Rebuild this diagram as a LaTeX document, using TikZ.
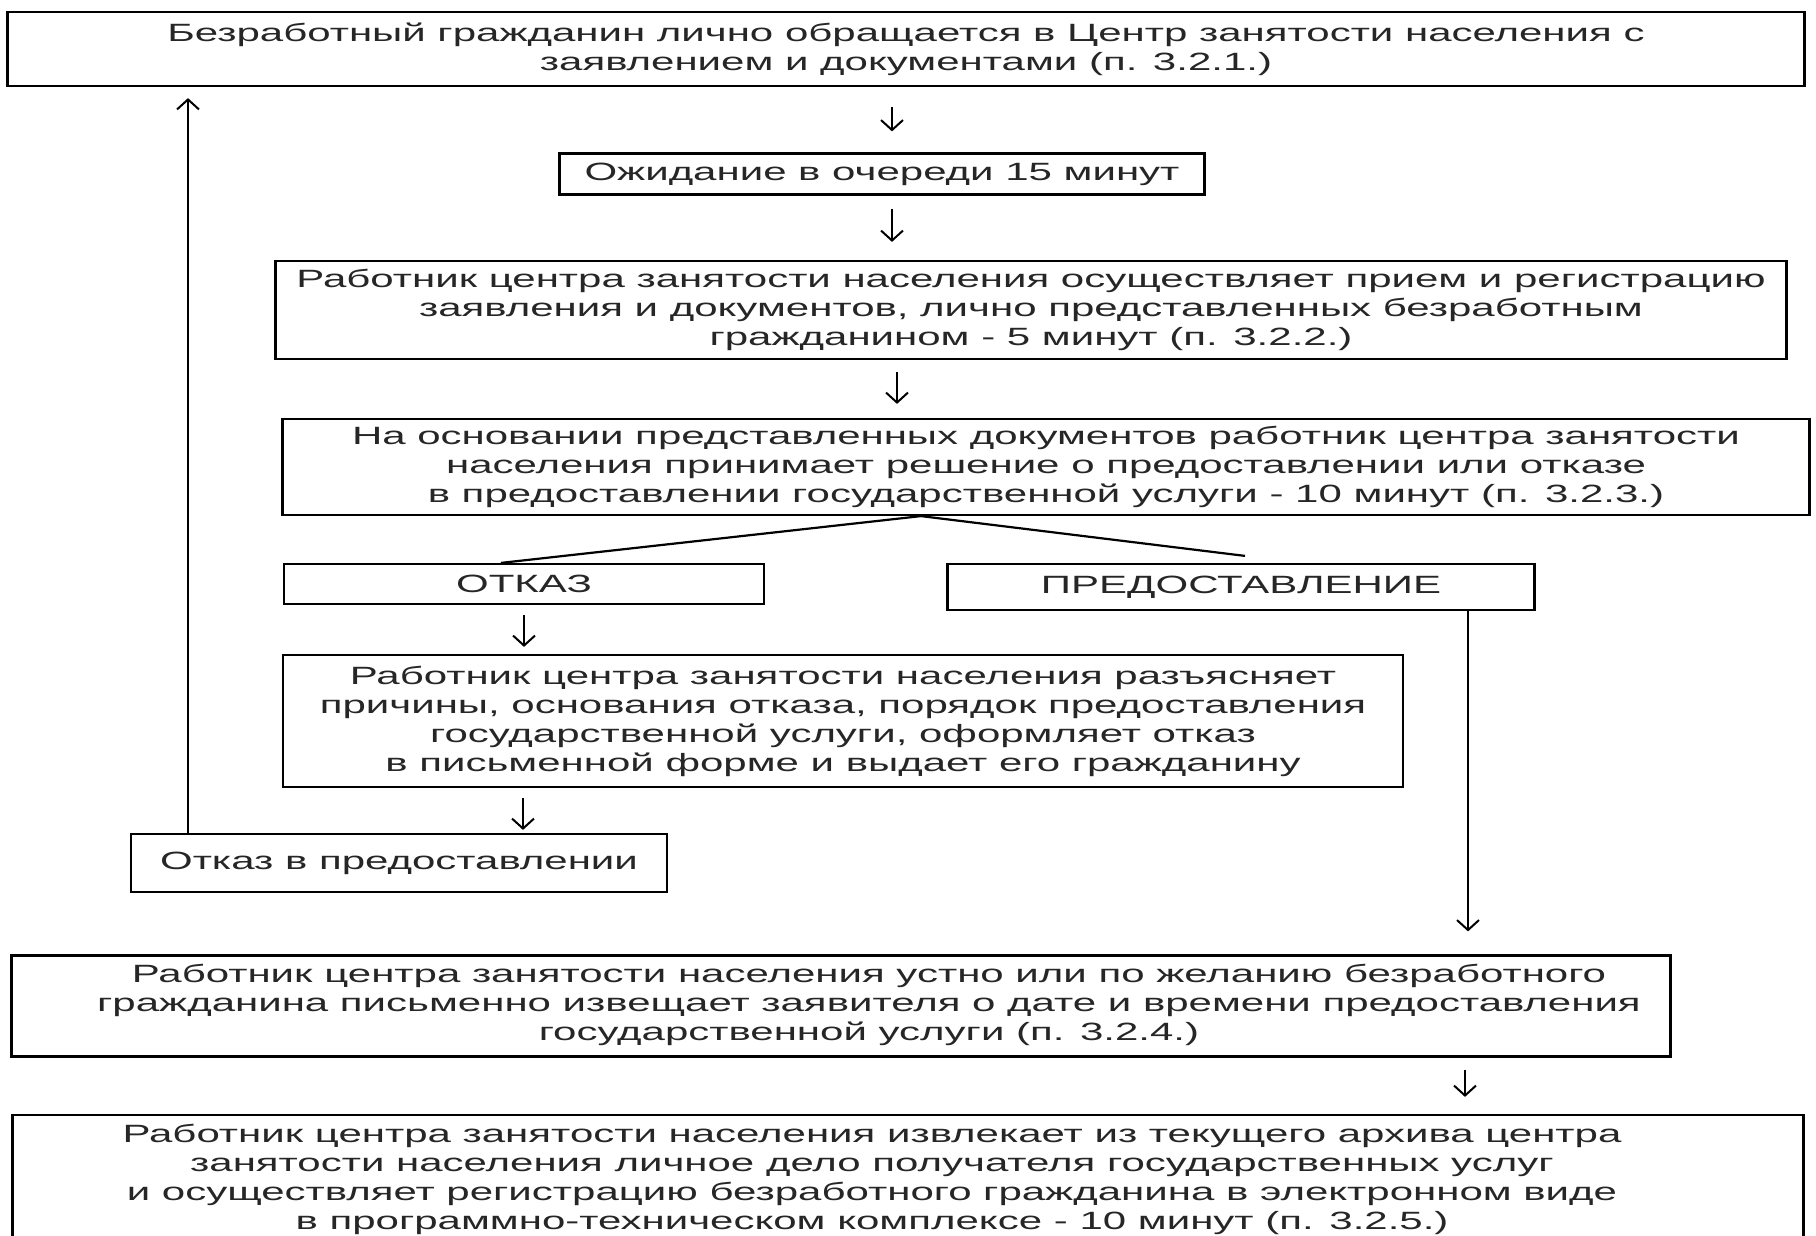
\documentclass[tikz,border=0pt]{standalone}
\usepackage{fontspec}
\setmainfont{Liberation Sans}[FakeStretch=1.68]
\usetikzlibrary{arrows.meta}

\begin{document}
\begin{tikzpicture}[x=0.5pt,y=-0.5pt,
    box/.style={draw,line width=1.1pt,align=center,inner sep=0pt,
      text=black!85,font=\fontsize{12.5pt}{14.5pt}\selectfont},
    arr/.style={-{Straight Barb[width=11pt,length=5pt]},line width=1pt},
    fork/.style={line width=1.1pt}]
   \useasboundingbox (0,0) rectangle (1816,1236);
   \node[box,minimum width=898.5pt,minimum height=37pt] (obr) at (906,49)
     {Безработный гражданин лично обращается в Центр занятости населения с\\
      заявлением и документами (п. 3.2.1.)};
   \node[box,minimum width=322.5pt,minimum height=20.5pt] (wait) at (882,174)
     {Ожидание в очереди 15 минут};
   \node[box,minimum width=755.5pt,minimum height=49pt] (priem) at (1031,310)
     {Работник центра занятости населения осуществляет прием и регистрацию\\
      заявления и документов, лично представленных безработным\\
      гражданином - 5 минут (п. 3.2.2.)};
   \node[box,minimum width=763.5pt,minimum height=48pt] (reshenie) at (1046,467)
     {На основании представленных документов работник центра занятости\\
      населения принимает решение о предоставлении или отказе\\
      в предоставлении государственной услуги - 10 минут (п. 3.2.3.)};
   \node[box,minimum width=240pt,minimum height=20pt] (otkaz) at (524,584)
     {ОТКАЗ};
   \node[box,minimum width=293.5pt,minimum height=23pt] (predost) at (1241,587)
     {ПРЕДОСТАВЛЕНИЕ};
   \node[box,minimum width=560pt,minimum height=66pt] (razyasn) at (843,721)
     {Работник центра занятости населения разъясняет\\
      причины, основания отказа, порядок предоставления\\
      государственной услуги, оформляет отказ\\
      в письменной форме и выдает его гражданину};
   \node[box,minimum width=268pt,minimum height=29pt] (otkazv) at (399,863)
     {Отказ в предоставлении};
   \node[box,minimum width=829.5pt,minimum height=50.5pt] (izvesch) at (841,1006)
     {\hspace*{28pt}\begin{tabular}{@{}c@{}}
      Работник центра занятости населения устно или по желанию безработного\\
      гражданина письменно извещает заявителя о дате и времени предоставления\\
      государственной услуги (п. 3.2.4.)\end{tabular}};
   \node[box,minimum width=895.5pt,minimum height=65pt] (izvlek) at (908,1180)
     {\begin{tabular}{@{}c@{}}
      Работник центра занятости населения извлекает из текущего архива центра\\
      занятости населения личное дело получателя государственных услуг\\
      и осуществляет регистрацию безработного гражданина в электронном виде\\
      в программно-техническом комплексе - 10 минут (п. 3.2.5.)\end{tabular}\hspace*{36pt}};
   % main line
   \draw[arr,shorten <=10pt,shorten >=10.5pt]
     ([xshift=5pt]wait.north |- obr.south) -- ([xshift=5pt]wait.north);
   \draw[arr,shorten <=6.5pt,shorten >=9pt]
     ([xshift=5pt]wait.south) -- ([xshift=5pt]wait.south |- priem.north);
   \draw[arr,shorten <=6pt,shorten >=7pt]
     ([xshift=-67pt]priem.south) -- ([xshift=-67pt]priem.south |- reshenie.north);
   % decision
   \coordinate (split) at ([xshift=-62.5pt]reshenie.south);
   \draw[fork] ([xshift=-11.5pt]otkaz.north) -- (split)
     -- ([xshift=2pt,yshift=3.5pt]predost.north);
   % refusal branch
   \draw[arr,shorten <=5pt,shorten >=3.5pt]
     (otkaz.south) -- (otkaz.south |- razyasn.north);
   \draw[arr,shorten <=5pt,shorten >=1.5pt]
     ([xshift=-160pt]razyasn.south) -- ([xshift=-160pt]razyasn.south |- otkazv.north);
   \draw[arr,shorten >=5.5pt]
     ([xshift=-105.5pt]otkazv.north) -- ([xshift=-105.5pt]otkazv.north |- obr.south);
   % granting branch
   \draw[arr,shorten >=11.5pt]
     ([xshift=113.5pt]predost.south) -- ([xshift=113.5pt]predost.south |- izvesch.north);
   \draw[arr,shorten <=6pt,shorten >=8.5pt]
     ([xshift=312pt]izvesch.south) -- ([xshift=312pt]izvesch.south |- izvlek.north);
\end{tikzpicture}
\end{document}
